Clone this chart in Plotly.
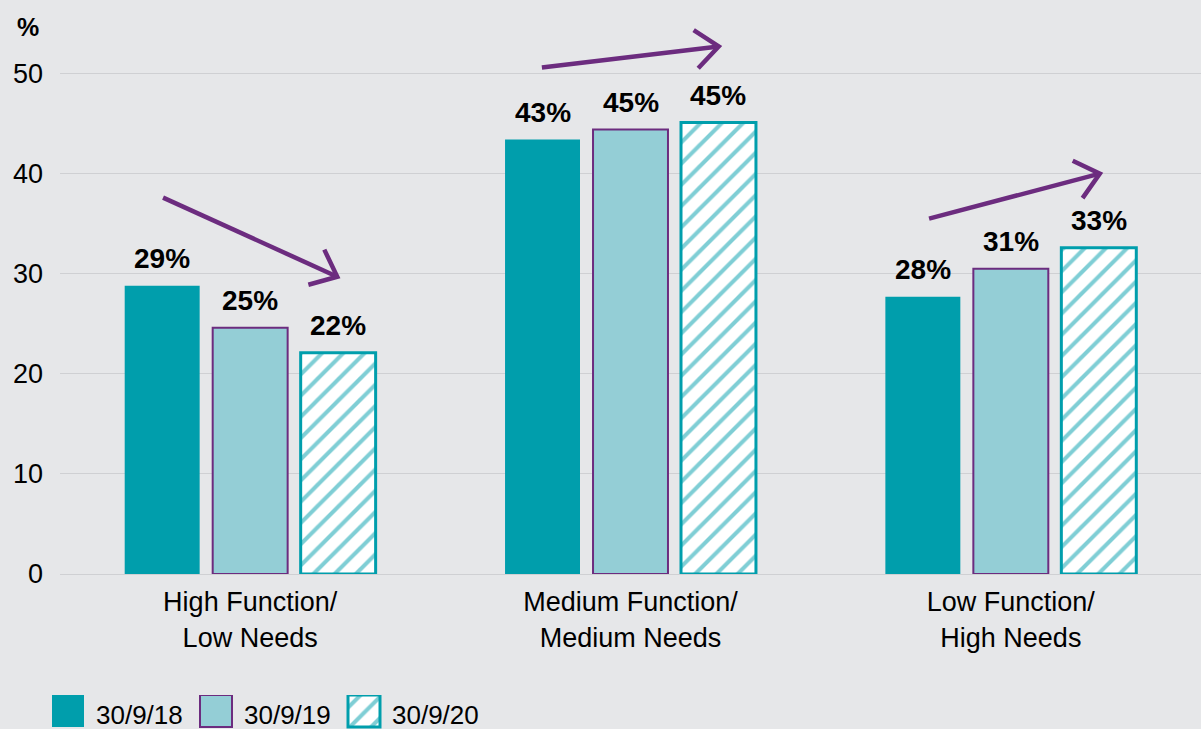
import math
import plotly.graph_objects as go

# ---------------- data ----------------
categories = ["High Function/<br>Low Needs", "Medium Function/<br>Medium Needs", "Low Function/<br>High Needs"]
series_names = ["30/9/18", "30/9/19", "30/9/20"]
values_18 = [28.8, 43.4, 27.7]
values_19 = [24.6, 44.4, 30.5]
values_20 = [22.1, 45.1, 32.6]
labels_18 = ["29%", "43%", "28%"]
labels_19 = ["25%", "45%", "31%"]
labels_20 = ["22%", "45%", "33%"]
y_ticks = [0, 10, 20, 30, 40, 50]
# trend arrows: (x_start, y_start, x_end, y_end) in category-index / value units
arrows = [(-0.229, 37.6, 0.229, 29.7),
          (0.767, 50.6, 1.232, 52.7),
          (1.785, 35.5, 2.234, 40.0)]

# ---------------- style ----------------
BG = "#e6e7e9"
GRID = "#cfd0d3"
TEAL = "#009eac"
LIGHT = "#94ced6"
PURPLE = "#6c2c7f"
FONT = "Liberation Sans, Arial, sans-serif"

W, H = 1201, 729
PLOT_L = 60
ZERO_PX = 574           # pixel row of y=0
PX_PER_Y = 10.01
Y_MAX = ZERO_PX / PX_PER_Y
BARGAP = 0.306
BARGROUPGAP = 0.148
PX_PER_CAT = (W - PLOT_L) / 3.0

x_idx = list(range(len(categories)))
series_vals = [values_18, values_19, values_20]
series_labels = [labels_18, labels_19, labels_20]

styles = [
    dict(color=TEAL, line=dict(color=TEAL, width=0)),
    dict(color=LIGHT, line=dict(color=PURPLE, width=2)),
    dict(color="white", line=dict(color=TEAL, width=3),
         pattern=dict(shape="/", fgcolor=TEAL, bgcolor="white", size=15, solidity=0.27)),
]

fig = go.Figure()
for name, vals, st in zip(series_names, series_vals, styles):
    fig.add_trace(go.Bar(x=x_idx, y=vals, name=name, marker=st, showlegend=False,
                         hoverinfo="skip", xaxis="x", yaxis="y"))

# value labels above bars
slot = (1 - BARGAP) / 3
annotations = []
for k, (vals, labs) in enumerate(zip(series_vals, series_labels)):
    for i, (v, lab) in enumerate(zip(vals, labs)):
        annotations.append(dict(x=i + (k - 1) * slot, y=v, xref="x", yref="y", text="<b>%s</b>" % lab,
                                showarrow=False, yanchor="middle", yshift=27,
                                font=dict(family=FONT, size=28, color="black")))

# trend arrows (open V heads)
ARM = 30
ANG = math.radians(40)
for (x0, y0, x1, y1) in arrows:
    dxp = (x0 - x1) * PX_PER_CAT
    dyp = (y0 - y1) * PX_PER_Y
    base = math.atan2(dyp, dxp)
    xs = [x0, x1, None]
    ys = [y0, y1, None]
    arms_x, arms_y = [], []
    for sgn in (1, -1):
        a = base + sgn * ANG
        arms_x.append(x1 + ARM * math.cos(a) / PX_PER_CAT)
        arms_y.append(y1 + ARM * math.sin(a) / PX_PER_Y)
    xs += [arms_x[0], x1, arms_x[1]]
    ys += [arms_y[0], y1, arms_y[1]]
    fig.add_trace(go.Scatter(x=xs, y=ys, mode="lines", line=dict(color=PURPLE, width=4.5),
                             showlegend=False, hoverinfo="skip", xaxis="x", yaxis="y"))

# custom legend (large swatches) on its own small axes
LEG_STEP = 148.0
LEG_C0 = 68.0
leg_r0 = -LEG_C0 / LEG_STEP
leg_r1 = leg_r0 + (W * 0.5) / LEG_STEP
for j, (name, st) in enumerate(zip(series_names, styles)):
    fig.add_trace(go.Bar(x=[j], y=[1], marker=st, width=32 / LEG_STEP, showlegend=False,
                         hoverinfo="skip", xaxis="x2", yaxis="y2"))
    annotations.append(dict(x=j + 26 / LEG_STEP, y=0.36, xref="x2", yref="y2", text=name,
                            showarrow=False, xanchor="left", yanchor="middle",
                            font=dict(family=FONT, size=26, color="black")))

annotations.append(dict(x=28 / W, y=1 - 27 / H, xref="paper", yref="paper", text="<b>%</b>",
                        showarrow=False, xanchor="center", yanchor="middle",
                        font=dict(family=FONT, size=25, color="black")))

fig.update_layout(
    width=W, height=H, autosize=False,
    margin=dict(l=0, r=0, t=0, b=0, pad=0),
    paper_bgcolor=BG, plot_bgcolor=BG,
    barmode="group", bargap=BARGAP, bargroupgap=BARGROUPGAP,
    font=dict(family=FONT, size=28, color="black"),
    annotations=annotations,
    xaxis=dict(domain=[PLOT_L / W, 1], range=[-0.5, 2.5], tickmode="array", tickvals=x_idx,
               ticktext=categories, showgrid=False, zeroline=False, showline=False,
               ticks="outside", ticklen=4, tickcolor="rgba(0,0,0,0)", automargin=False,
               tickfont=dict(family=FONT, size=27, color="black"), anchor="y", fixedrange=True),
    yaxis=dict(domain=[(H - ZERO_PX) / H, 1], range=[0, Y_MAX], tickmode="array", tickvals=y_ticks,
               showgrid=True, gridcolor=GRID, gridwidth=1, zeroline=True, zerolinecolor=GRID,
               zerolinewidth=1, showline=False, ticks="", ticklabelstandoff=16, automargin=False,
               tickfont=dict(family=FONT, size=27, color="black"), anchor="x", fixedrange=True),
    xaxis2=dict(domain=[0, 0.5], range=[leg_r0, leg_r1], visible=False, anchor="y2",
                fixedrange=True, automargin=False),
    yaxis2=dict(domain=[0, 34 / H], range=[-0.0625, 1], visible=False, anchor="x2",
                fixedrange=True, automargin=False),
)

fig.write_html("out.html", config={"responsive": False, "displayModeBar": False},
               post_script="document.body.style.margin='0px';document.body.style.overflow='hidden';")
